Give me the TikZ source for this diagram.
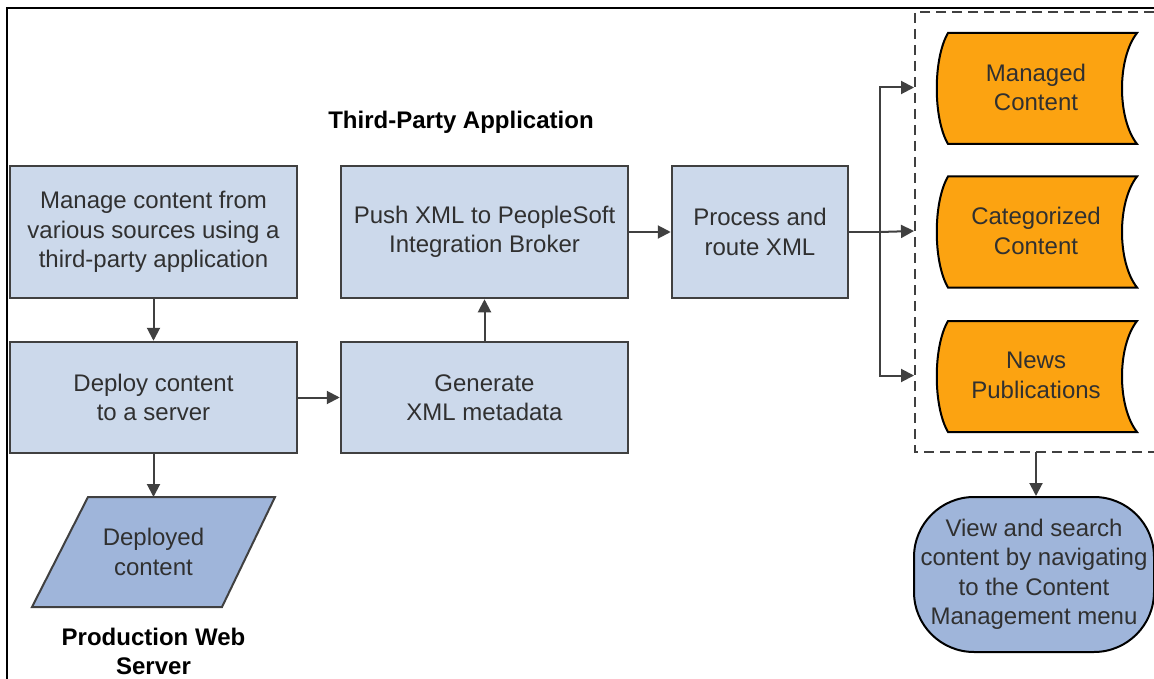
\documentclass[tikz,border=0pt]{standalone}
\usepackage{fontspec}
\setmainfont{Liberation Sans}
\usepackage{tikz}
\usetikzlibrary{arrows.meta, positioning, calc}
\definecolor{BoxBlue}{HTML}{CCD9EB}
\definecolor{DarkBlue}{HTML}{9FB5DA}
\definecolor{StoreOrange}{HTML}{FCA311}
\definecolor{LineGray}{HTML}{404040}
\definecolor{TextGray}{HTML}{303030}

\begin{document}
\begin{tikzpicture}[x = 1pt, y = -1pt,
	every node/.style = {font = \fontsize{24}{29.5}\selectfont, text = TextGray, align = center},
	stepbox/.style = {draw = LineGray, line width = 2.5pt, fill = BoxBlue, minimum width = 287pt, minimum height = 132pt, inner sep = 0pt},
	arr/.style = {LineGray, line width = 2pt, -{Triangle[length = 13pt, width = 13pt]}},
	link/.style = {LineGray, line width = 2pt},
	title/.style = {font = \fontsize{24}{29}\selectfont\bfseries, text = black}]
						\path [use as bounding box, draw = none] (0, 0) rectangle (1154, 679);
						\draw[black, line width = 1.5pt] (7, 679) -- (7, 8) -- (1154, 8);
						% left column
						\node[stepbox] (manage) at (153.5, 232) {Manage content from\\various sources using a\\third-party application};
						\node[stepbox, minimum height = 111pt] (deploy) at (153.5, 397.5) {Deploy content\\to a server};
						\draw[line width = 2pt, draw = LineGray, fill = DarkBlue] (88, 497) -- (275, 497) -- (222, 607) -- (32, 607) -- cycle;
						\node (deployed) at (153.5, 552) {Deployed\\content};
						\coordinate (deployedTop) at (153.5, 497);
						\node[title] (webserver) at (153.5, 651) {Production Web\\Server};
						% middle column
						\node[title] (thirdparty) at (461, 122) {Third-Party Application};
						\node[stepbox] (push) at (484.5, 232) {Push XML to PeopleSoft\\Integration Broker};
						\node[stepbox, minimum height = 111pt] (generate) at (484.5, 397.5) {Generate\\XML metadata};
						\node[stepbox, minimum width = 176pt] (process) at (760, 232) {Process and\\route XML};
						% stored content
						\foreach \nm/\cy/\txt in {managed/88.5/{Managed\\Content}, categorized/232/{Categorized\\Content}, news/376.5/{News\\Publications}}{
							\filldraw[draw = black, line width = 2pt, fill = StoreOrange] (948, \cy - 55.5) -- (1137, \cy - 55.5) .. controls (1117, \cy - 30) and (1117, \cy + 30) .. (1137, \cy + 55.5) -- (948, \cy + 55.5) .. controls (933, \cy + 30) and (933, \cy - 30) .. cycle;
							\node (\nm) at (1036, \cy - 1) {\txt};
						}
						\draw[LineGray, line width = 2pt, dash pattern = on 10pt off 6pt] (1154, 12) -- (915, 12) -- (915, 452) -- (1154, 452);
						\coordinate (split) at (880, 232);
						\coordinate (dashLeft) at (914, 0);
						\coordinate (dashBottom) at (1036, 452);
						\node[draw = black, line width = 2pt, fill = DarkBlue, rounded corners = 60pt, minimum width = 240pt, minimum height = 155pt, inner sep = 0pt] (view) at (1034, 574.5) {View and search\\content by navigating\\to the Content\\Management menu};
						% connectors
						\draw[arr] (manage) -- (deploy);
						\draw[arr] (deploy) -- (generate);
						\draw[arr] (deploy) -- (deployedTop);
						\draw[arr] (generate) -- (push);
						\draw[arr] (push) -- (process);
						\draw[link] (process) -- (split);
						\draw[arr] (split) |- (managed.west -| dashLeft);
						\draw[arr] (split) -- (categorized.west -| dashLeft);
						\draw[arr] (split) |- (news.west -| dashLeft);
						\draw[arr] (dashBottom) -- (dashBottom |- view.north);
					\end{tikzpicture}
\end{document}
